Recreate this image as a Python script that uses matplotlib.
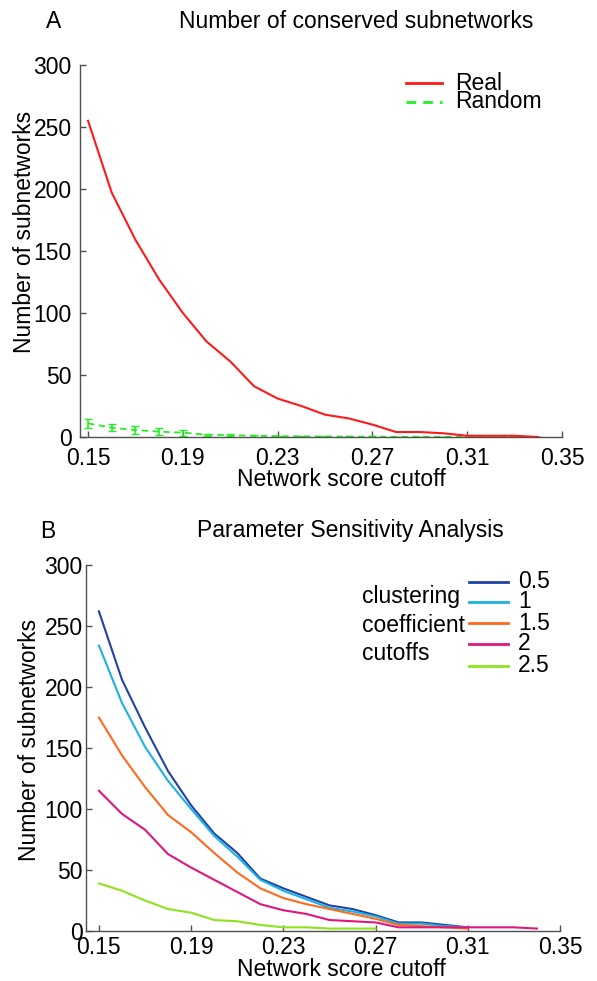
import matplotlib
matplotlib.use("Agg")
import matplotlib.pyplot as plt
from matplotlib.lines import Line2D

plt.rcParams['font.family'] = ['Liberation Sans', 'DejaVu Sans']

# ---- data ----
cutoffs = [0.15, 0.16, 0.17, 0.18, 0.19, 0.20, 0.21, 0.22, 0.23, 0.24,
           0.25, 0.26, 0.27, 0.28, 0.29, 0.30, 0.31, 0.32, 0.33, 0.34]
real_counts = [255, 197, 159, 127, 100, 77, 61, 41, 31, 25,
               18, 15, 10, 4, 4, 3, 1, 1, 1, 0]
random_mean = [11, 7.5, 5.6, 4.3, 3.5, 1.8, 1.5, 1.0, 0.7, 0.5,
               0.4, 0.3, 0.3, 0.2, 0.2, 0.1, 0.1, 0.1, 0.1, 0.0]
random_err = [3.5, 3.0, 3.0, 3.0, 2.5, 1.0, 1.0, 0.6, 0.5, 0.4,
              0.3, 0.3, 0.3, 0.2, 0.2, 0.1, 0.1, 0.1, 0.1, 0.0]

cc_labels = ['0.5', '1', '1.5', '2', '2.5']
cc_05 = [262, 206, 167, 131, 103, 80, 64, 43, 35, 28, 21, 18, 13, 7, 7, 5, 3]
cc_1 = [234, 187, 151, 123, 100, 78, 61, 42, 33, 26, 19, 16, 12, 6, 6, 4, 3]
cc_15 = [175, 144, 118, 95, 81, 64, 48, 35, 27, 22, 18, 14, 10, 5, 4, 3, 2]
cc_2 = [115, 96, 83, 63, 52, 42, 32, 22, 17, 14, 9, 8, 7, 3, 3, 3, 3, 3, 3, 2]
cc_25 = [39, 33, 25, 18, 15, 9, 8, 5, 3, 3, 2, 2, 2]
cc_series = [cc_05, cc_1, cc_15, cc_2, cc_25]
cc_colors = ['#2142a6', '#1cb2e0', '#ff6a1f', '#e0177a', '#8ee31c']

xticks = [0.15, 0.19, 0.23, 0.27, 0.31, 0.35]
yticks = [0, 50, 100, 150, 200, 250, 300]

RED = '#ff1a1a'
GREEN = '#22ee22'
FS = 16.5

W, H = 597, 981
fig = plt.figure(figsize=(W / 100, H / 100), dpi=100)


def fx(x):
    return x / W


def fy(y):
    return 1 - y / H


def frac_box(l, t, r, b):
    return [l / W, 1 - b / H, (r - l) / W, (b - t) / H]


def style_axes(ax, xmin, xpad, ypad):
    ax.set_xlim(xmin, 0.35)
    ax.set_ylim(0, 300)
    ax.set_xticks(xticks)
    ax.set_xticklabels([f'{v:.2f}' for v in xticks])
    ax.set_yticks(yticks)
    for s in ('top', 'right'):
        ax.spines[s].set_visible(False)
    for s in ('left', 'bottom'):
        ax.spines[s].set_color('#505050')
        ax.spines[s].set_linewidth(1.0)
    ax.tick_params(direction='in', length=4, width=1.0, color='#505050',
                   labelsize=FS)
    ax.tick_params(axis='x', pad=xpad)
    ax.tick_params(axis='y', pad=ypad)
    ax.patch.set_alpha(0)


def legend_entry(x0, x1, y, text, tx, **line_kw):
    fig.add_artist(Line2D([fx(x0), fx(x1)], [fy(y), fy(y)],
                          transform=fig.transFigure, **line_kw))
    fig.text(fx(tx), fy(y), text, fontsize=FS, ha='left', va='center')


# ---- panel A ----
axA = fig.add_axes(frac_box(80, 65, 562, 437))
style_axes(axA, 0.1466, xpad=7, ypad=6)
axA.plot(cutoffs, real_counts, color=RED, lw=1.5, zorder=3)
axA.errorbar(cutoffs, random_mean, yerr=random_err, color=GREEN, lw=1.3,
             dashes=(3.5, 2.5), capsize=3, elinewidth=1.2, zorder=2)
legend_entry(406, 442, 83, 'Real', 455, color=RED, lw=2)
legend_entry(406, 442, 102, 'Random', 455, color=GREEN, lw=2,
             dashes=(3.5, 2.5))
fig.text(fx(54), fy(21), 'A', fontsize=FS, ha='center', va='center')
fig.text(fx(356), fy(21), 'Number of conserved subnetworks', fontsize=FS,
         ha='center', va='center')
fig.text(fx(341), fy(479), 'Network score cutoff', fontsize=FS,
         ha='center', va='center')
fig.text(fx(25), fy(232), 'Number of subnetworks', fontsize=FS,
         ha='center', va='center', rotation=90)

# ---- panel B ----
axB = fig.add_axes(frac_box(86, 565, 560, 931))
style_axes(axB, 0.1444, xpad=3.5, ypad=2.5)
for vals, col in zip(cc_series, cc_colors):
    axB.plot(cutoffs[:len(vals)], vals, color=col, lw=1.5)
for col, lab, y in zip(cc_colors, cc_labels, [582, 602, 623, 644, 666]):
    legend_entry(469, 508, y, lab, 518, color=col, lw=2)
for txt, y in zip(['clustering', 'coefficient', 'cutoffs'], [597, 625, 653]):
    fig.text(fx(362), fy(y), txt, fontsize=FS, ha='left', va='center')
fig.text(fx(48), fy(531), 'B', fontsize=FS, ha='center', va='center')
fig.text(fx(350), fy(531), 'Parameter Sensitivity Analysis', fontsize=FS,
         ha='center', va='center')
fig.text(fx(341), fy(969), 'Network score cutoff', fontsize=FS,
         ha='center', va='center')
fig.text(fx(30), fy(740), 'Number of subnetworks', fontsize=FS,
         ha='center', va='center', rotation=90)

fig.savefig('out.png', dpi=100, facecolor='white')
